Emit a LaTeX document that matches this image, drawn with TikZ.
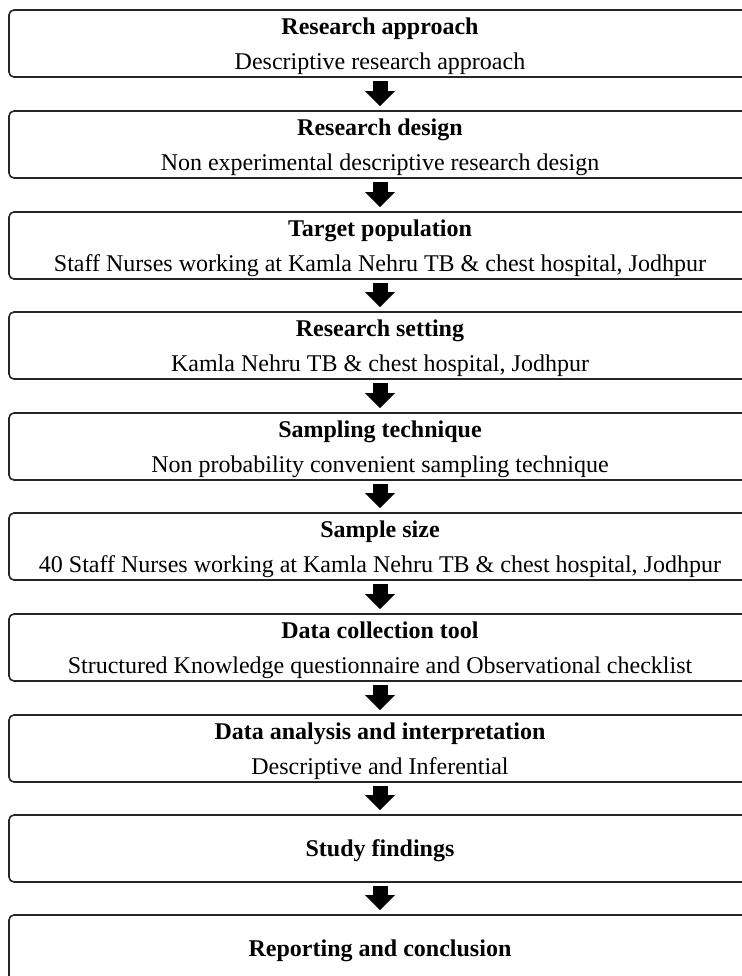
\documentclass[tikz,border=0pt]{standalone}
\usepackage{fontspec}
\setmainfont{Liberation Serif}
\usetikzlibrary{positioning,arrows.meta}
\tikzset{
  fc box/.style={draw=black!85,line width=0.8pt,rounded corners=2.5pt,
    minimum width=371pt,minimum height=33.5pt,inner sep=0pt},
  fc title/.style={font=\fontsize{12}{14.4}\selectfont\bfseries,anchor=base,inner sep=0pt},
  fc text/.style={font=\fontsize{12}{14.4}\selectfont,anchor=base,inner sep=0pt},
  fc arrow/.style={-{Triangle[length=7.5pt,width=14.5pt]},line width=7.5pt,black}
}
% box with a title line and a text line: name, top, title, text
\newcommand{\fcstep}[4]{%
  \node[fc box] (#1) at (380,#2+33.5) {};
  \node[fc title] (#1-title) at ([yshift=-12.5pt]#1.north) {#3};
  \node[fc text] (#1-text) at ([yshift=-30pt]#1.north) {#4};
}
% box with a title only: name, top, title
\newcommand{\fcend}[3]{%
  \node[fc box] (#1) at (380,#2+33.5) {};
  \node[fc title] (#1-title) at ([yshift=-21pt]#1.north) {#3};
}

\begin{document}
\begin{tikzpicture}[x=0.5pt,y=-0.5pt]
  \useasboundingbox (0,0) rectangle (742,976);

  \fcstep{approach}{10}{Research approach}{Descriptive research approach}
  \fcstep{design}{111}{Research design}{Non experimental descriptive research design}
  \fcstep{population}{212}{Target population}
    {Staff Nurses working at Kamla Nehru TB \& chest hospital, Jodhpur}
  \fcstep{setting}{312}{Research setting}{Kamla Nehru TB \& chest hospital, Jodhpur}
  \fcstep{technique}{413}{Sampling technique}{Non probability convenient sampling technique}
  \fcstep{size}{513}{Sample size}
    {40 Staff Nurses working at Kamla Nehru TB \& chest hospital, Jodhpur}
  \fcstep{tool}{614}{Data collection tool}
    {Structured Knowledge questionnaire and Observational checklist}
  \fcstep{analysis}{715}{Data analysis and interpretation}{Descriptive and Inferential}
  \fcend{findings}{815}{Study findings}
  \fcend{report}{915}{Reporting and conclusion}

  % block arrows between the steps
  \foreach \a/\b in {approach/design,design/population,population/setting,
      setting/technique,technique/size,size/tool,tool/analysis,
      analysis/findings,findings/report}
    \draw[fc arrow] ([yshift=-1.5pt]\a.south) -- ([yshift=2pt]\b.north);
\end{tikzpicture}
\end{document}
